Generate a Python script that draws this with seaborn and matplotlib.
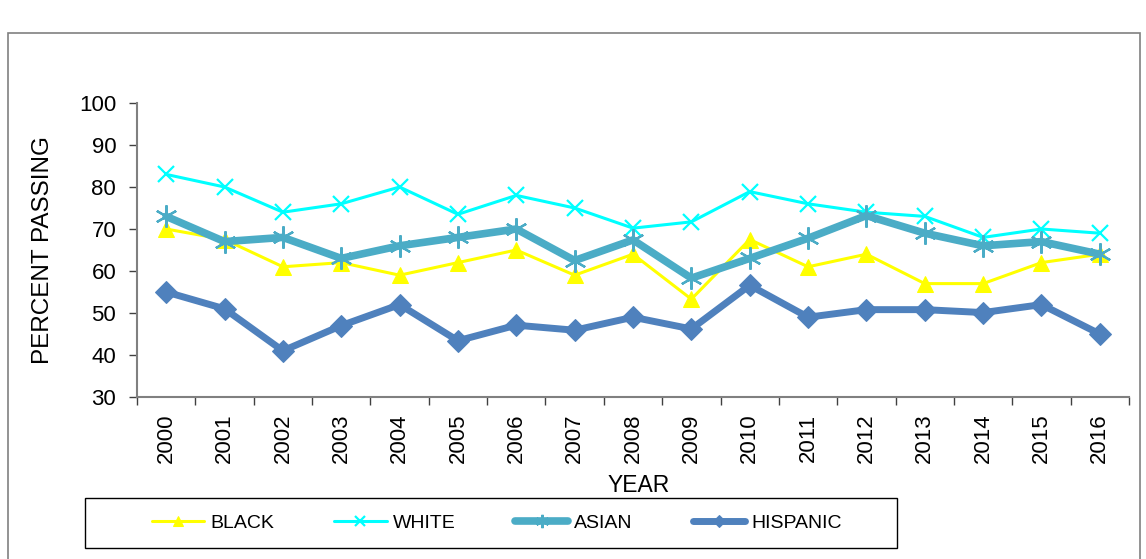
import numpy as np
import pandas as pd
import matplotlib
matplotlib.use("Agg")
import matplotlib.pyplot as plt
import seaborn as sns
from matplotlib.patches import Rectangle
from matplotlib.ticker import FixedLocator, MultipleLocator

# data
years = [str(y) for y in range(2000, 2017)]
black = [70, 67.5, 61, 62, 59, 62, 65, 59, 64, 53.3, 67.5, 61, 64, 57, 57, 62, 64]
white = [83, 80, 74, 76, 80, 73.5, 78, 75, 70.2, 71.7, 78.9, 76, 74, 73, 68, 70, 69]
asian = [73, 67, 68, 63, 66, 68, 70, 62.5, 67.4, 58.3, 63, 67.8, 73.2, 69, 66, 67, 64]
hispanic = [55, 51, 41, 47, 52, 43.4, 47.1, 45.9, 49, 46.2, 56.6, 49, 50.8, 50.8, 50.1, 52, 45]

sns.set_style("white")
plt.rcParams['font.family'] = ['Liberation Sans', 'DejaVu Sans']
plt.rcParams['text.color'] = 'black'
plt.rcParams['xtick.color'] = 'black'
plt.rcParams['ytick.color'] = 'black'
plt.rcParams['axes.labelcolor'] = 'black'

W, H = 1146, 559
fig = plt.figure(figsize=(W / 100, H / 100), dpi=100)
ax = fig.add_axes([137 / W, 1 - 397 / H, (1129 - 137) / W, (397 - 103) / H])

x = np.arange(len(years))
styles = [
    ("BLACK", black, "#FFFF00", 2.2, "^", 11, {}),
    ("WHITE", white, "#00FFFF", 2.2, "x", 11, {"markeredgewidth": 1.6}),
    ("ASIAN", asian, "#4BACC6", 5.5, (6, 2, 0), 16, {"markeredgewidth": 1.6}),
    ("HISPANIC", hispanic, "#4F81BD", 5.0, "D", 11, {}),
]
for name, vals, col, lw, mk, ms, extra in styles:
    sns.lineplot(x=x, y=vals, ax=ax, color=col, linewidth=lw, marker=mk,
                 markersize=ms, markeredgecolor=col, markerfacecolor=col,
                 label=name, **extra)

ax.set_xlim(-0.5, len(years) - 0.5)
ax.set_ylim(30, 100)
ax.yaxis.set_major_locator(MultipleLocator(10))
ax.set_xticks(x)
ax.set_xticklabels(years, rotation=90, fontsize=16)
ax.xaxis.set_minor_locator(FixedLocator(np.arange(-0.5, len(years), 1)))
ax.tick_params(axis='x', which='major', length=0, pad=12)
ax.tick_params(axis='x', which='minor', length=6, width=1, direction='out',
               bottom=True, color='#404040')
ax.tick_params(axis='y', labelsize=16, length=6, width=1, direction='out',
               left=True, pad=9, color='#404040')
for s in ['top', 'right']:
    ax.spines[s].set_visible(False)
for s in ['left', 'bottom']:
    ax.spines[s].set_color('#808080')
    ax.spines[s].set_linewidth(1.5)
ax.set_xlabel("YEAR", fontsize=16.5)
ax.set_ylabel("PERCENT PASSING", fontsize=17.5)
ax.xaxis.set_label_coords(((608 + 670) / 2 - 137) / 992, -(474 - 397) / 294)
ax.yaxis.set_label_coords(-(137 - 54) / 992, 0.5)

leg = ax.legend(loc='center', bbox_to_anchor=((150 + 843) / 2 / W, 1 - 523 / H),
                bbox_transform=fig.transFigure, ncol=4, frameon=False,
                fontsize=14, handlelength=2.7, columnspacing=3.1,
                handletextpad=0.3, markerscale=0.6)

# legend box and outer chart frame
fig.patches.append(Rectangle((85 / W, 1 - 548 / H), (897 - 85) / W, 50 / H,
                             transform=fig.transFigure, fill=False,
                             edgecolor='black', linewidth=1.0))
fig.patches.append(Rectangle((8 / W, -0.01), (1140 - 8) / W, 1 - 33 / H + 0.01,
                             transform=fig.transFigure, fill=False,
                             edgecolor='#808080', linewidth=1.2))

fig.savefig("out.png", dpi=100)
